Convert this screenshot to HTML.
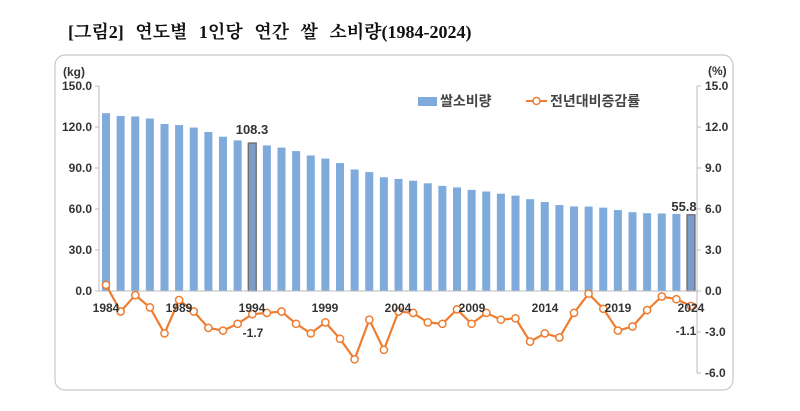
<!DOCTYPE html>
<html><head><meta charset="utf-8">
<style>
html,body{margin:0;padding:0;background:#fff;width:800px;height:411px;overflow:hidden}
svg{display:block}
.t{font-family:"Liberation Sans","Noto Sans CJK KR",sans-serif;font-weight:bold;fill:#333;font-size:12px}
</style></head>
<body>
<svg id="s" width="800" height="411" viewBox="0 0 800 411">
<text x="68" y="38" style="font-family:'Liberation Serif','Noto Serif CJK SC',serif;font-weight:bold;font-size:18px;word-spacing:7px;fill:#111">[그림2] 연도별 1인당 연간 쌀 소비량(1984-2024)</text>
<rect x="55" y="55" width="678" height="335" rx="10" ry="10" fill="#fff" stroke="#c8c8c8" stroke-width="1.2"/>
<g id="bars"></g>
<line x1="99" y1="86" x2="99" y2="291" stroke="#bbb"/>
<line x1="697" y1="86" x2="697" y2="373" stroke="#bbb"/>
<line x1="99" y1="291" x2="697" y2="291" stroke="#bbb"/>
<g id="ticks" stroke="#bbb"></g>
<g class="t" text-anchor="end">
<text x="92" y="90">150.0</text><text x="92" y="131">120.0</text><text x="92" y="172">90.0</text>
<text x="92" y="213">60.0</text><text x="92" y="254">30.0</text><text x="92" y="295">0.0</text>
</g>
<g class="t" text-anchor="start">
<text x="705" y="90">15.0</text><text x="705" y="131">12.0</text><text x="705" y="172">9.0</text>
<text x="705" y="213">6.0</text><text x="705" y="254">3.0</text><text x="705" y="295">0.0</text>
<text x="705" y="336">-3.0</text><text x="705" y="377">-6.0</text>
</g>
<text class="t" x="63" y="76">(kg)</text>
<text class="t" x="708" y="75">(%)</text>
<g id="line"></g>
<g class="t" text-anchor="middle">
<text x="106" y="312">1984</text><text x="179" y="312">1989</text><text x="252" y="312">1994</text>
<text x="325" y="312">1999</text><text x="398" y="312">2004</text><text x="472" y="312">2009</text>
<text x="545" y="312">2014</text><text x="618" y="312">2019</text><text x="691" y="312">2024</text>
<text x="252" y="134" font-size="13">108.3</text>
<text x="684" y="211" font-size="13">55.8</text>
<text x="253" y="337">-1.7</text>
<text x="686" y="335">-1.1</text>
</g>
<rect x="418" y="97" width="19" height="9" fill="#7faadc"/>
<text class="t" x="440" y="106" style="font-size:14px;fill:#444">쌀소비량</text>
<line x1="526" y1="101" x2="547" y2="101" stroke="#ed7d31" stroke-width="2"/>
<circle cx="536.5" cy="101" r="3.5" fill="#fff" stroke="#ed7d31" stroke-width="1.5"/>
<text class="t" x="550" y="106" style="font-size:14px;fill:#444">전년대비증감률</text>
</svg>
<script>
var v=[130.1,128.1,127.7,126.2,122.2,121.4,119.6,116.3,112.9,110.2,108.3,106.5,104.9,102.4,99.2,96.9,93.6,88.9,87.0,83.2,82.0,80.7,78.8,76.9,75.8,74.0,72.8,71.2,69.8,67.2,65.1,62.9,61.9,61.8,61.0,59.2,57.7,56.9,56.7,56.4,55.8];
var p=[0.45,-1.5,-0.3,-1.2,-3.1,-0.66,-1.5,-2.7,-2.9,-2.4,-1.7,-1.6,-1.5,-2.4,-3.1,-2.3,-3.5,-5.0,-2.1,-4.3,-1.5,-1.6,-2.3,-2.4,-1.35,-2.4,-1.6,-2.1,-2.0,-3.7,-3.1,-3.4,-1.6,-0.2,-1.3,-2.9,-2.6,-1.4,-0.4,-0.6,-1.1];
var NS="http://www.w3.org/2000/svg";
function el(t,a,par){var e=document.createElementNS(NS,t);for(var k in a)e.setAttribute(k,a[k]);document.getElementById(par).appendChild(e);return e;}
var pts=[];
for(var i=0;i<41;i++){
 var cx=106+i*14.625, h=v[i]*205/150;
 var hl=(i==10||i==40);
 el("rect",{x:cx-4,y:291-h,width:8,height:h,fill:hl?"#7a9cc6":"#7faadc",stroke:hl?"#666":"none","stroke-width":hl?1.2:0},"bars");
 pts.push(cx.toFixed(1)+","+(291-p[i]*205/15).toFixed(1));
}
for(var j=0;j<6;j++){var y=86+j*41;el("line",{x1:95,y1:y,x2:99,y2:y},"ticks");}
for(var j=0;j<8;j++){var y=86+j*41;el("line",{x1:697,y1:y,x2:701,y2:y},"ticks");}
el("polyline",{points:pts.join(" "),fill:"none",stroke:"#ed7d31","stroke-width":2.2},"line");
pts.forEach(function(s){var c=s.split(",");el("circle",{cx:c[0],cy:c[1],r:3.6,fill:"#fff",stroke:"#ed7d31","stroke-width":1.5},"line");});
</script>
</body></html>
